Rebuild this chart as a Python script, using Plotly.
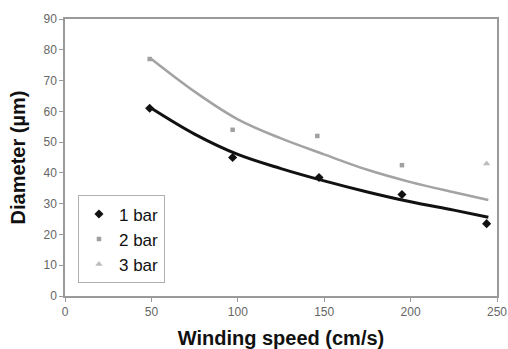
import plotly.graph_objects as go

# measured points
x_1bar = [49, 97, 147, 195, 244]
y_1bar = [61, 45, 38.5, 33, 23.5]
x_2bar = [49, 97, 146, 195]
y_2bar = [77, 54, 52, 42.5]
x_3bar = [244]
y_3bar = [43]

# trend curves
x_fit = [50, 75, 100, 125, 150, 175, 200, 225, 245]
y_fit_black = [61, 52.6, 46.0, 41.4, 37.4, 33.8, 30.6, 27.9, 25.6]
y_fit_grey = [77, 66.4, 57.4, 51.2, 46.0, 41.0, 37.0, 33.7, 31.2]

x_ticks = [0, 50, 100, 150, 200, 250]
y_ticks = [0, 10, 20, 30, 40, 50, 60, 70, 80, 90]

fig = go.Figure()
fig.add_trace(go.Scatter(x=x_fit, y=y_fit_grey, mode="lines",
                         line=dict(color="#a3a3a3", width=2.5, shape="spline", smoothing=1.0),
                         showlegend=False, hoverinfo="skip"))
fig.add_trace(go.Scatter(x=x_fit, y=y_fit_black, mode="lines",
                         line=dict(color="#111111", width=3, shape="spline", smoothing=1.0),
                         showlegend=False, hoverinfo="skip"))
fig.add_trace(go.Scatter(x=x_1bar, y=y_1bar, mode="markers", name="1 bar",
                         marker=dict(symbol="diamond", size=7, color="#111111")))
fig.add_trace(go.Scatter(x=x_2bar, y=y_2bar, mode="markers", name="2 bar",
                         marker=dict(symbol="square", size=4.5, color="#a0a0a0")))
fig.add_trace(go.Scatter(x=x_3bar, y=y_3bar, mode="markers", name="3 bar",
                         marker=dict(symbol="triangle-up", size=6.5, color="#bdbdbd")))

fig.update_layout(
    width=508, height=349,
    margin=dict(l=65, r=11, t=19, b=53),
    paper_bgcolor="white", plot_bgcolor="white",
    font=dict(family="Liberation Sans, Arial, sans-serif", color="#000"),
    xaxis=dict(range=[0, 250], tickvals=x_ticks, showgrid=False, zeroline=False, automargin=False,
               showline=True, linecolor="#9a9a9a", linewidth=1.5, mirror=True,
               ticks="outside", ticklen=4, tickcolor="#9a9a9a", ticklabeloverflow="allow",
               tickfont=dict(size=12, color="#666"),
               title=dict(text="<b>Winding speed (cm/s)</b>", font=dict(size=20, color="#111"), standoff=13)),
    yaxis=dict(range=[0, 90], tickvals=y_ticks, showgrid=False, zeroline=False, automargin=False,
               showline=True, linecolor="#9a9a9a", linewidth=1.5, mirror=True,
               ticks="outside", ticklen=4, tickcolor="#9a9a9a", ticklabeloverflow="allow",
               tickfont=dict(size=12, color="#666"),
               title=dict(text="<b>Diameter (µm)</b>", font=dict(size=20, color="#111"), standoff=12)),
    legend=dict(x=0.03, y=0.363, xanchor="left", yanchor="top",
                bordercolor="#b0b0b0", borderwidth=1, bgcolor="white",
                font=dict(size=17, color="#111"), itemwidth=30, tracegroupgap=0),
)

fig.write_html("out.html", config={"displayModeBar": False},
               post_script="document.body.style.margin='0';document.body.style.overflow='hidden';")
